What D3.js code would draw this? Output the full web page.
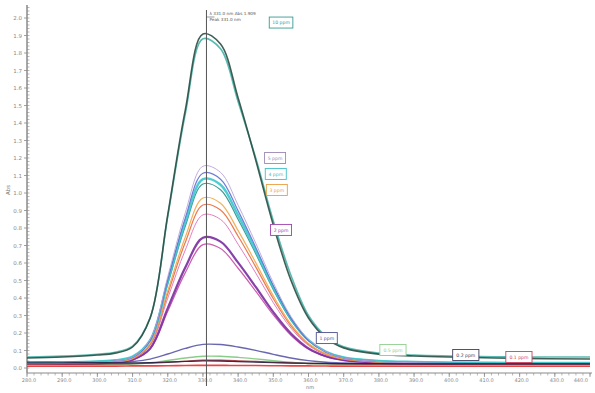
<!DOCTYPE html>
<html>
<head>
<meta charset="utf-8">
<script src="https://cdn.jsdelivr.net/npm/d3@7"></script>
<style>
  html, body { margin: 0; padding: 0; background: #fff; }
  svg { display: block; font-family: "DejaVu Sans", sans-serif; }
</style>
</head>
<body>
<svg id="chart" width="595" height="393"></svg>
<script>
// Wavelength grid (nm) shared by all spectra
const wavelengths = [280, 290, 300, 305, 310, 315, 320, 325, 330, 335, 340, 345, 350, 355, 360, 365, 370, 380, 390, 400, 420, 440];

// Absorbance spectra, one array per trace
const s10a = [.057, .063, .074, .085, .120, .286, .875, 1.475, 1.909, 1.851, 1.543, 1.188, .817, .502, .286, .171, .115, .079, .069, .063, .055, .051];
const s10b = [.063, .068, .079, .090, .125, .288, .866, 1.454, 1.881, 1.824, 1.522, 1.200, .840, .530, .300, .180, .121, .085, .074, .069, .063, .063];
const s5 = [.023, .026, .033, .040, .062, .163, .522, .888, 1.153, 1.118, .930, .713, .487, .295, .163, .092, .058, .037, .030, .026, .023, .023];
const s4b = [.023, .026, .033, .039, .060, .158, .505, .858, 1.113, 1.079, .898, .689, .470, .285, .158, .090, .057, .036, .030, .026, .023, .023];
const s4 = [.029, .032, .038, .044, .065, .159, .493, .833, 1.079, 1.047, .872, .670, .460, .281, .159, .093, .061, .041, .035, .032, .029, .029];
const s4t = [.029, .032, .038, .044, .064, .155, .480, .811, 1.051, 1.019, .849, .653, .448, .274, .155, .091, .061, .041, .035, .031, .029, .029];
const s3 = [.023, .026, .031, .037, .055, .140, .442, .749, .971, .942, .785, .602, .412, .251, .140, .081, .053, .034, .029, .026, .023, .023];
const s3r = [.023, .026, .031, .037, .054, .135, .424, .719, .931, .903, .753, .578, .396, .241, .135, .079, .051, .034, .029, .026, .023, .023];
const s2p = [.023, .025, .031, .036, .052, .129, .399, .675, .875, .849, .707, .543, .373, .228, .129, .075, .050, .033, .028, .026, .023, .023];
const s2 = [.023, .025, .029, .034, .048, .112, .342, .575, .744, .722, .602, .463, .319, .197, .112, .067, .045, .031, .027, .025, .023, .023];
const s2m = [.023, .025, .029, .033, .046, .107, .324, .545, .705, .683, .570, .439, .303, .187, .107, .065, .044, .031, .027, .025, .023, .023];
const s1 = [.023, .024, .026, .030, .037, .051, .080, .112, .135, .134, .120, .101, .078, .057, .042, .033, .029, .025, .024, .023, .023, .023];
const s05 = [.017, .018, .019, .020, .023, .030, .043, .057, .067, .067, .061, .052, .042, .033, .026, .022, .020, .018, .017, .017, .017, .017];
const s02 = [.034, .033, .031, .030, .030, .031, .034, .037, .040, .039, .036, .033, .030, .028, .027, .026, .025, .025, .024, .024, .024, .024];
const s02r = [.023, .023, .023, .024, .025, .028, .033, .039, .044, .044, .041, .037, .033, .029, .026, .025, .024, .023, .023, .023, .023, .023];
const s01 = [.011, .011, .011, .011, .012, .012, .013, .014, .015, .015, .014, .014, .013, .012, .012, .011, .011, .011, .011, .011, .011, .011];

// Axis ticks
const xTicks = [280, 290, 300, 310, 320, 330, 340, 350, 360, 370, 380, 390, 400, 410, 420, 430, 440];
const yTicks = [0, .1, .2, .3, .4, .5, .6, .7, .8, .9, 1.0, 1.1, 1.2, 1.3, 1.4, 1.5, 1.6, 1.7, 1.8, 1.9, 2.0];

// Concentration tags
const tagLabels = ["10 ppm", "5 ppm", "4 ppm", "3 ppm", "2 ppm", "1 ppm", "0.5 ppm", "0.2 ppm", "0.1 ppm"];
const tagWavelength = [352.2, 350.5, 350.7, 351.0, 352.2, 365.2, 384.0, 404.7, 419.8];
const tagAbs = [1.974, 1.200, 1.109, 1.017, 0.789, 0.171, 0.103, 0.074, 0.063];
const tagColors = ["#3a9a90", "#9a88b8", "#40c0c8", "#e8a040", "#a040b0", "#505090", "#8fd08f", "#404060", "#d04060"];

// Cursor position
const cursorNm = 331;

// Trace table: values, stroke colour, width (drawn in order)
const traces = [
  { v: s01, c: "#e83030", w: 1.6 },
  { v: s05, c: "#7cc87c", w: 1.4 },
  { v: s1, c: "#5a56a8", w: 1.4 },
  { v: s2m, c: "#c84aa8", w: 1.2 },
  { v: s2, c: "#7a2e9e", w: 2.2 },
  { v: s2p, c: "#e070b8", w: 1 },
  { v: s3r, c: "#e86a40", w: 1.2 },
  { v: s3, c: "#f0a848", w: 1.2 },
  { v: s4t, c: "#2a8f8a", w: 1.2 },
  { v: s4, c: "#3cc6cc", w: 2.4 },
  { v: s4b, c: "#5b6fd1", w: 1.2 },
  { v: s5, c: "#b9a3d6", w: 1 },
  { v: s10b, c: "#48b2a8", w: 1.6 },
  { v: s10a, c: "#2c4e44", w: 1.6 },
  { v: s02r, c: "#9a2a3a", w: 1.4 },
  { v: s02, c: "#222244", w: 1.2 }
];

const svg = d3.select("#chart");
const x = d3.scaleLinear().domain([280, 440]).range([27, 590]);
const y = d3.scaleLinear().domain([0, 2.0]).range([368, 18]);

// Axes
const axisColor = "#8a8a8a";
const yAxis = svg.append("g").attr("transform", "translate(27,0)");
yAxis.append("line").attr("y1", 5).attr("y2", 373).attr("stroke", axisColor).attr("stroke-width", 1.5);
const yMinor = d3.range(0, 2.07, 0.02);
yAxis.selectAll(".ym").data(yMinor).join("line")
  .attr("x1", 0).attr("x2", 2.5).attr("y1", d => y(d)).attr("y2", d => y(d))
  .attr("stroke", axisColor).attr("stroke-width", 0.6);
yAxis.selectAll(".yM").data(yTicks).join("line")
  .attr("x1", -3).attr("x2", 0).attr("y1", d => y(d)).attr("y2", d => y(d))
  .attr("stroke", axisColor).attr("stroke-width", 0.8);
yAxis.selectAll("text").data(yTicks).join("text")
  .attr("x", -5).attr("y", d => y(d) + 2)
  .attr("text-anchor", "end").attr("font-size", 5.5).attr("fill", "#888")
  .text(d => d.toFixed(1));
svg.append("text").attr("transform", "translate(10,190) rotate(-90)")
  .attr("text-anchor", "middle").attr("font-size", 5.5).attr("fill", "#777").text("Abs");

const xAxis = svg.append("g").attr("transform", "translate(0,373)");
xAxis.append("line").attr("x1", 27).attr("x2", 592).attr("stroke", axisColor).attr("stroke-width", 1);
const xMinor = d3.range(280, 440.1, 2);
xAxis.selectAll(".xm").data(xMinor).join("line")
  .attr("x1", d => x(d)).attr("x2", d => x(d)).attr("y1", 0).attr("y2", 2.5)
  .attr("stroke", axisColor).attr("stroke-width", 0.6);
xAxis.selectAll(".xM").data(xTicks).join("line")
  .attr("x1", d => x(d)).attr("x2", d => x(d)).attr("y1", 0).attr("y2", 4)
  .attr("stroke", axisColor).attr("stroke-width", 0.8);
xAxis.selectAll("text").data(xTicks).join("text")
  .attr("x", (d, i) => i === xTicks.length - 1 ? x(d) - 2 : x(d) + 2).attr("y", 9)
  .attr("text-anchor", (d, i) => i === xTicks.length - 1 ? "end" : "middle")
  .attr("font-size", 5).attr("fill", "#888")
  .text(d => d.toFixed(1));
svg.append("text").attr("x", 310).attr("y", 389)
  .attr("text-anchor", "middle").attr("font-size", 5).attr("fill", "#777").text("nm");

// Spectra
const line = d3.line()
  .x((d, i) => x(wavelengths[i]))
  .y(d => y(d))
  .curve(d3.curveCatmullRom.alpha(0.5));
svg.append("g").selectAll("path").data(traces).join("path")
  .attr("d", d => line(d.v))
  .attr("fill", "none")
  .attr("stroke", d => d.c)
  .attr("stroke-width", d => d.w)
  .attr("stroke-opacity", 0.9);

// Cursor line with readout
const cx = x(cursorNm);
svg.append("line").attr("x1", cx).attr("x2", cx).attr("y1", 10).attr("y2", 386)
  .attr("stroke", "#555").attr("stroke-width", 1);
svg.append("line").attr("x1", cx).attr("x2", cx + 8).attr("y1", 17).attr("y2", 17)
  .attr("stroke", "#555").attr("stroke-width", 0.6);
svg.append("text").attr("x", cx + 3).attr("y", 15).attr("font-size", 4.2).attr("fill", "#555")
  .text("λ 331.0 nm  Abs 1.909");
svg.append("text").attr("x", cx + 3).attr("y", 21).attr("font-size", 4.2).attr("fill", "#555")
  .text("Peak 331.0 nm");

// Concentration tags
const tags = svg.append("g").selectAll("g").data(tagLabels).join("g")
  .attr("transform", (d, i) => `translate(${x(tagWavelength[i])},${y(tagAbs[i])})`);
tags.append("rect")
  .attr("x", d => -(d.length * 2.6 + 8) / 2).attr("y", -5.5)
  .attr("width", d => d.length * 2.6 + 8).attr("height", 11)
  .attr("fill", "#fff").attr("stroke", (d, i) => tagColors[i]).attr("stroke-width", 0.9);
tags.append("text")
  .attr("text-anchor", "middle").attr("y", 1.8)
  .attr("font-size", 4.6).attr("fill", (d, i) => tagColors[i])
  .text(d => d);
</script>
</body>
</html>
